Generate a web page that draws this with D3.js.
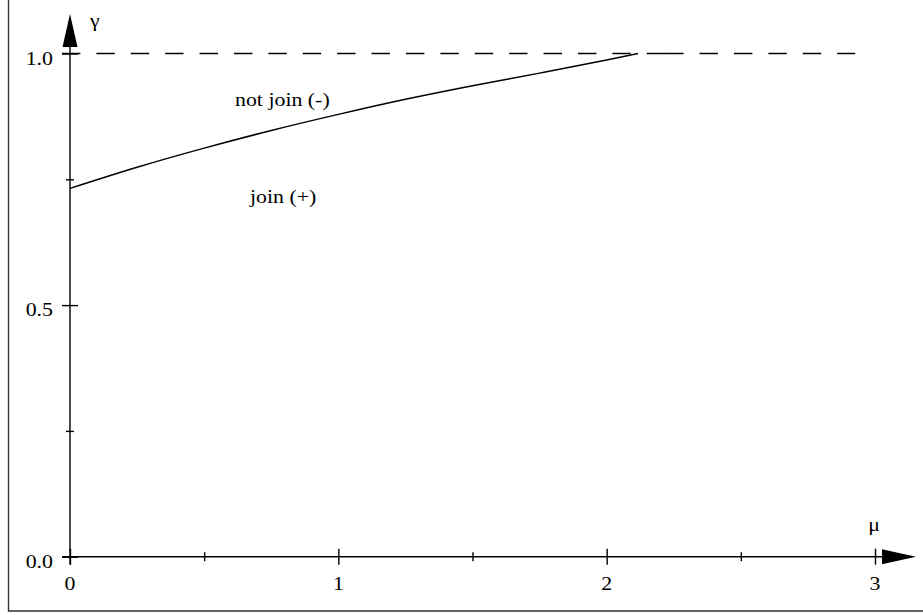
<!DOCTYPE html>
<html>
<head>
<meta charset="utf-8">
<script src="https://cdn.jsdelivr.net/npm/d3@7/dist/d3.min.js"></script>
<style>
  html, body { margin: 0; padding: 0; background: #fff; }
  svg { display: block; }
  text { font-family: "Liberation Serif", "Times New Roman", serif; fill: #000; }
</style>
</head>
<body>
<svg id="chart" width="923" height="615"></svg>
<script>
// Boundary curve gamma(mu) separating "join" and "not join"
const muValues    = [0, 0.25, 0.5, 0.75, 1.0, 1.25, 1.5, 1.75, 2.0, 2.117];
const gammaValues = [0.732, 0.774, 0.812, 0.847, 0.879, 0.909, 0.936, 0.961, 0.987, 1.0];

// Axis ticks
const xMajorTicks = [0, 1, 2, 3];
const xMinorTicks = [0.5, 1.5, 2.5];
const xTickLabels = ["0", "1", "2", "3"];
const yMajorTicks = [0, 0.5, 1.0];
const yMinorTicks = [0.25, 0.75];
const yTickLabels = ["0.0", "0.5", "1.0"];

// Reference level gamma = 1 (drawn dashed, in two runs)
const refLevel = 1.0;
const refRuns = [[-0.03, 2.218], [2.218, 2.926]];

// Region annotations
const regionLabels = ["not join (-)", "join (+)"];
const regionMu     = [0.615, 0.671];
const regionGamma  = [0.896, 0.702];

const svg = d3.select("#chart");
const x = d3.scaleLinear().domain([0, 3]).range([70, 875]);
const y = d3.scaleLinear().domain([0, 1]).range([556.7, 53.5]);

const FS = 19, SX = 1.15;
function label(g, txt, px, py, anchor) {
  const t = g.append("g").attr("transform", `translate(${px},${py}) scale(${SX},1)`);
  t.append("text").attr("text-anchor", anchor || "start")
    .attr("font-size", FS).text(txt);
}

// partial frame
svg.append("path").attr("d", "M8.5,0 V611 H923")
  .attr("fill", "none").attr("stroke", "#333").attr("stroke-width", 1.4);

// x axis: line, ticks crossing both sides
const xAxisG = svg.append("g").attr("transform", `translate(0,${y(0)})`)
  .call(d3.axisBottom(x).tickValues(xMajorTicks.concat(xMinorTicks)).tickFormat("").tickSizeOuter(0));
xAxisG.select(".domain").remove();
xAxisG.selectAll(".tick line")
  .attr("y1", d => xMinorTicks.includes(d) ? -4.5 : -8)
  .attr("y2", d => xMinorTicks.includes(d) ? 4.5 : 8)
  .attr("stroke", "#000").attr("stroke-width", 1.4);
xAxisG.append("line").attr("x1", 62).attr("x2", 884).attr("stroke", "#000").attr("stroke-width", 1.4);
xAxisG.append("path").attr("d", "M882,-7.5 L916,0 L882,7.5 Z").attr("fill", "#000");

// y axis
const yAxisG = svg.append("g").attr("transform", `translate(${x(0)},0)`)
  .call(d3.axisLeft(y).tickValues(yMajorTicks.concat(yMinorTicks)).tickFormat("").tickSizeOuter(0));
yAxisG.select(".domain").remove();
yAxisG.selectAll(".tick line")
  .attr("x1", d => yMinorTicks.includes(d) ? -4 : -8)
  .attr("x2", d => yMinorTicks.includes(d) ? 4 : 8)
  .attr("stroke", "#000").attr("stroke-width", 1.4);
yAxisG.append("line").attr("y1", y(0) + 8).attr("y2", 20).attr("stroke", "#000").attr("stroke-width", 1.4);
yAxisG.append("path").attr("d", "M0,14 L-7.5,47 L7.5,47 Z").attr("fill", "#000");

// tick labels
yMajorTicks.forEach((v, i) => label(svg, yTickLabels[i], 53, y(v) + 11, "end"));
xMajorTicks.forEach((v, i) => label(svg, xTickLabels[i], x(v), 589.5, "middle"));

// axis names
label(svg, "γ", 90, 27, "start");
label(svg, "μ", 874, 531, "middle");

// dashed reference level
refRuns.forEach(r => {
  svg.append("line")
    .attr("x1", x(r[0])).attr("x2", x(r[1]))
    .attr("y1", y(refLevel)).attr("y2", y(refLevel))
    .attr("stroke", "#000").attr("stroke-width", 1.4)
    .attr("stroke-dasharray", "18.4,16");
});

// boundary curve
const pts = muValues.map((m, i) => [m, gammaValues[i]]);
svg.append("path").datum(pts)
  .attr("d", d3.line().x(d => x(d[0])).y(d => y(d[1])).curve(d3.curveMonotoneX))
  .attr("fill", "none").attr("stroke", "#000").attr("stroke-width", 1.5);

// region annotations
regionLabels.forEach((t, i) => label(svg, t, x(regionMu[i]), y(regionGamma[i]), "start"));
</script>
</body>
</html>
